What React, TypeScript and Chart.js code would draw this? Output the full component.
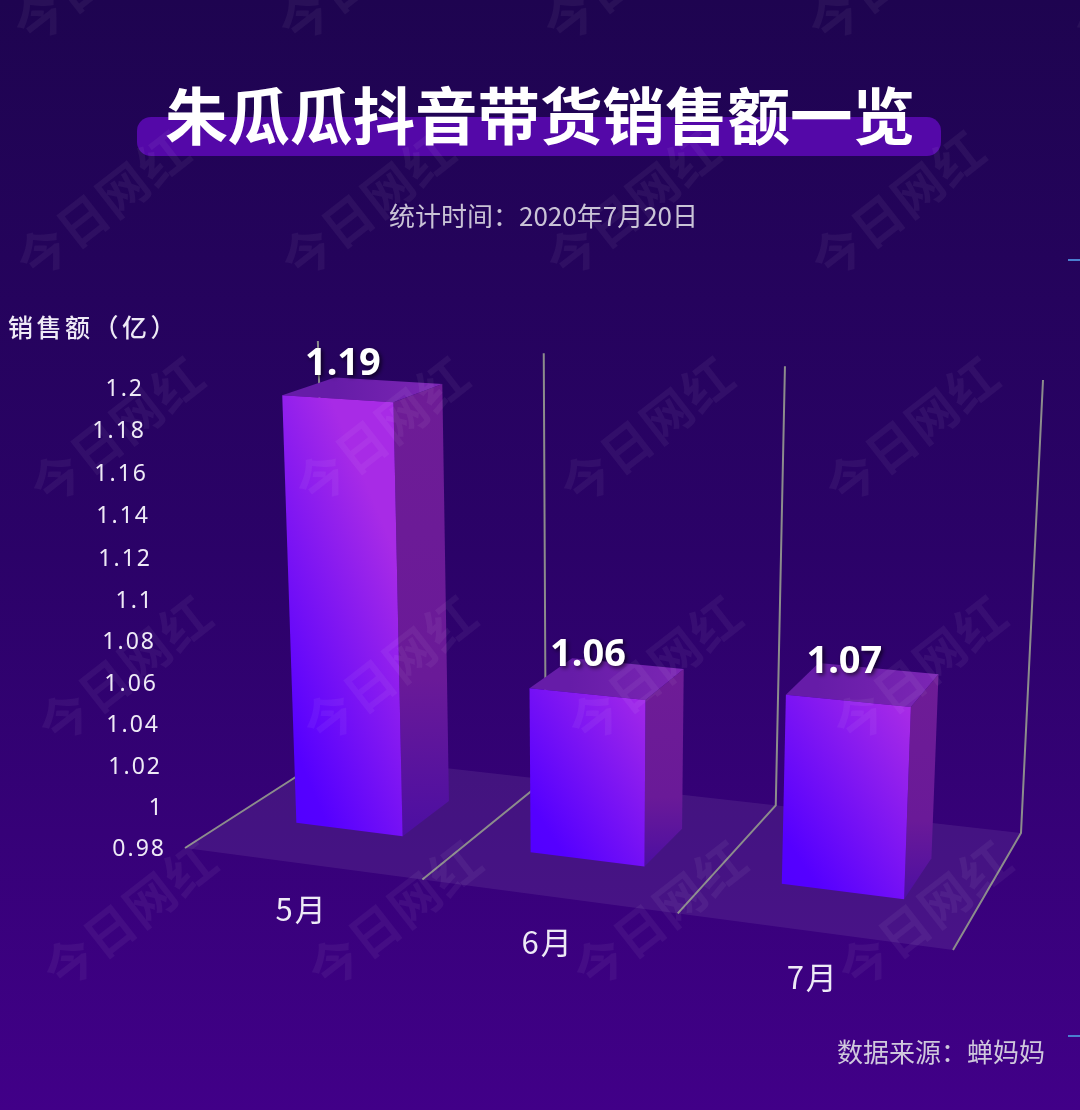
import React, { useEffect, useRef } from "react";
import { Chart, registerables } from "chart.js";

Chart.register(...registerables);

const categories = ["5月", "6月", "7月"];
const salesValues = [1.19, 1.058, 1.067];
const yTickLabels = ["0.98", "1", "1.02", "1.04", "1.06", "1.08", "1.1", "1.12", "1.14", "1.16", "1.18", "1.2"];
const yTickValues = [0.98, 1, 1.02, 1.04, 1.06, 1.08, 1.1, 1.12, 1.14, 1.16, 1.18, 1.2];
const watermarkText = "今日网红";

const CJK = '"Noto Sans CJK SC", "Noto Sans", sans-serif';

// Perspective of the floor plane: unit square -> screen
const H = { a: 651.0, b: 185.76, c: 185, d: -14.64, e: 0.26, f: 848, g: -0.12278, h: 0.12352 };
const floor = (u0: number, v: number) => {
  const u = u0 + 0.02 * u0 * (1 - u0);
  const w = H.g * u + H.h * v + 1;
  return { x: (H.a * u + H.b * v + H.c) / w, y: (H.d * u + H.e * v + H.f) / w };
};
// Lift a floor point by fraction s of the value axis
const lift = (p: { x: number; y: number }, s: number) => {
  const height = 414 + 0.5 * (p.y - 755);
  const lean = (p.x - 590) * 0.0001127;
  return { x: p.x + lean * height * s, y: p.y - height * s };
};
const V_FRONT = 0.326;
const V_BACK = 0.685;

const poly = (ctx: CanvasRenderingContext2D, pts: { x: number; y: number }[], fill: any) => {
  ctx.beginPath();
  pts.forEach((p, i) => (i ? ctx.lineTo(p.x, p.y) : ctx.moveTo(p.x, p.y)));
  ctx.closePath();
  ctx.fillStyle = fill;
  ctx.fill();
};

const backdrop = {
  id: "backdrop",
  beforeDraw(chart: any) {
    const { ctx, width, height } = chart;
    ctx.save();
    const bg = ctx.createLinearGradient(0, 0, 0, height);
    bg.addColorStop(0, "#1e0450");
    bg.addColorStop(0.5, "#2b0268");
    bg.addColorStop(1, "#410088");
    ctx.fillStyle = bg;
    ctx.fillRect(0, 0, width, height);
    ctx.fillStyle = "#5408a8";
    ctx.beginPath();
    ctx.roundRect(137, 117, 804, 39, 14);
    ctx.fill();
    ctx.fillStyle = "#4a7fd0";
    ctx.fillRect(1068, 259, 12, 2);
    ctx.fillRect(1068, 1035, 12, 2);
    ctx.restore();
  },
};

const bars3d = {
  id: "bars3d",
  afterDatasetsDraw(chart: any) {
    const { ctx, chartArea: area, scales } = chart;
    const yS = scales.y;
    const fracOf = (val: number) => (yS.bottom - yS.getPixelForValue(val)) / (yS.bottom - yS.top);
    const uOf = (px: number) => (px - area.left) / (area.right - area.left);
    ctx.save();

    // floor
    poly(ctx, [floor(0, 0), floor(1, 0), floor(1, 1), floor(0, 1)], "rgba(255,255,255,0.075)");

    // frame lines
    ctx.strokeStyle = "#8c8c8c";
    ctx.lineWidth = 2;
    for (let i = 0; i <= categories.length; i++) {
      const u = i / categories.length;
      const a = floor(u, 0);
      const b = floor(u, 1);
      const c = lift(b, 1);
      ctx.beginPath();
      ctx.moveTo(a.x, a.y);
      ctx.lineTo(b.x, b.y);
      ctx.lineTo(c.x, c.y);
      ctx.stroke();
    }

    // bars
    const meta = chart.getDatasetMeta(0);
    const tops: { x: number; y: number; s: number }[] = [];
    meta.data.forEach((el: any) => {
      const u0 = uOf(el.x - el.width / 2);
      const u1 = uOf(el.x + el.width / 2);
      const s = (yS.bottom - el.y) / (yS.bottom - yS.top);
      const fl = floor(u0, V_FRONT);
      const fr = floor(u1, V_FRONT);
      const br = floor(u1, V_BACK);
      const bl = floor(u0, V_BACK);
      const tfl = lift(fl, s);
      const tfr = lift(fr, s);
      const tbr = lift(br, s);
      const tbl = lift(bl, s);

      const side = ctx.createLinearGradient(0, tbr.y, 0, fr.y);
      side.addColorStop(0, "#6e1c96");
      side.addColorStop(0.65, "#6a1a98");
      side.addColorStop(1, "#4c0ea2");
      poly(ctx, [fr, br, tbr, tfr], side);

      const top = ctx.createLinearGradient(tbl.x, tbl.y, tbr.x, tbr.y);
      top.addColorStop(0, "#661ca8");
      top.addColorStop(1, "#7c26b4");
      poly(ctx, [tfl, tfr, tbr, tbl], top);

      // diagonal sheen: blue at the lower left, magenta toward the upper right
      const w = fr.x - fl.x;
      const h = fl.y - tfl.y;
      const A = 1 / (2 * w);
      const B = 1 / (250 + 0.6 * h);
      const n = A * A + B * B;
      const front = ctx.createLinearGradient(fl.x, fl.y, fl.x + A / n, fl.y - B / n);
      front.addColorStop(0, "#5200ff");
      front.addColorStop(0.14, "#5500ff");
      front.addColorStop(1, "#a82be6");
      poly(ctx, [fl, fr, tfr, tfl], front);

      tops.push({ x: (tfl.x + tfr.x) / 2, y: (tfl.y + tfr.y) / 2, s });
    });

    // value labels
    ctx.textAlign = "center";
    ctx.textBaseline = "middle";
    ctx.font = '700 38px "Noto Sans", sans-serif';
    ctx.fillStyle = "#ffffff";
    ctx.shadowColor = "rgba(0,0,0,0.65)";
    ctx.shadowBlur = 4;
    ctx.shadowOffsetX = 2;
    ctx.shadowOffsetY = 2;
    tops.forEach((p, i) =>
      ctx.fillText(salesValues[i].toFixed(2), p.x + 5 - 4.5 * i, p.y - 41 + 7 * p.s),
    );
    ctx.shadowColor = "transparent";
    ctx.shadowBlur = 0;
    ctx.shadowOffsetX = 0;
    ctx.shadowOffsetY = 0;

    // category labels
    ctx.font = `400 31px ${CJK}`;
    ctx.fillStyle = "#eeeaf6";
    (ctx as any).letterSpacing = "2px";
    categories.forEach((c, i) => {
      const p = floor(uOf(scales.x.getPixelForValue(i)), 0);
      ctx.fillText(c, p.x, p.y + 46);
    });

    // value axis labels
    ctx.textAlign = "right";
    ctx.font = '400 23px "Noto Sans", sans-serif';
    yTickValues.forEach((val, i) => {
      const s = fracOf(val);
      ctx.fillText(yTickLabels[i], 166 - 22 * s, 849 - (448 * s + 12 * s * s));
    });

    // axis title
    ctx.textAlign = "left";
    ctx.font = `500 25px ${CJK}`;
    (ctx as any).letterSpacing = "3.5px";
    ctx.fillStyle = "#eeeaf6";
    ctx.fillText("销售额（亿）", 8, 327);
    (ctx as any).letterSpacing = "0px";

    // subtitle
    ctx.textAlign = "center";
    ctx.font = `400 26px ${CJK}`;
    ctx.fillStyle = "#c9c3d6";
    ctx.fillText("统计时间：2020年7月20日", 543.5, 216);

    // source
    ctx.textAlign = "right";
    ctx.fillStyle = "#cfc8dc";
    ctx.fillText("数据来源：蝉妈妈", 1045, 1052);
    ctx.restore();
  },
  afterDraw(chart: any) {
    const { ctx } = chart;
    ctx.save();
    ctx.font = `700 50px ${CJK}`;
    ctx.textAlign = "center";
    ctx.textBaseline = "middle";
    ctx.fillStyle = "rgba(255,255,255,0.05)";
    const rows = [-30, 205, 431, 670, 915];
    const drift = [100, 103, 117, 125, 130];
    rows.forEach((y, r) => {
      for (let c = -1; c < 5; c++) {
        ctx.save();
        ctx.translate(drift[r] + c * 265, y);
        ctx.rotate((-38 * Math.PI) / 180);
        (ctx as any).letterSpacing = "1px";
        ctx.fillText(watermarkText, 0, 0);
        ctx.restore();
      }
    });
    ctx.restore();
  },
};

export default function App() {
  const ref = useRef<HTMLCanvasElement>(null);
  useEffect(() => {
    document.body.style.margin = "0";
    const chart = new Chart(ref.current as HTMLCanvasElement, {
      type: "bar",
      data: {
        labels: categories,
        datasets: [
          {
            label: "销售额（亿）",
            data: salesValues,
            backgroundColor: "rgba(0,0,0,0)",
            borderWidth: 0,
            categoryPercentage: 1,
            barPercentage: 0.462,
          },
        ],
      },
      options: {
        responsive: false,
        animation: false,
        devicePixelRatio: 1,
        events: [],
        layout: { padding: 0 },
        scales: {
          x: { display: false },
          y: { display: false, min: 0.98, max: 1.2, ticks: { stepSize: 0.02 } },
        },
        plugins: {
          legend: { display: false },
          tooltip: { enabled: false },
          title: {
            display: true,
            text: "朱瓜瓜抖音带货销售额一览",
            color: "#ffffff",
            font: { family: CJK, size: 62.5, weight: "bold", lineHeight: 1.2 },
            padding: { top: 79, bottom: 23 },
          },
          subtitle: { display: false },
        },
      },
      plugins: [backdrop, bars3d],
    } as any);
    return () => chart.destroy();
  }, []);
  return (
    <div style={{ width: 1080, height: 1110 }}>
      <canvas ref={ref} width={1080} height={1110} style={{ display: "block" }} />
    </div>
  );
}
